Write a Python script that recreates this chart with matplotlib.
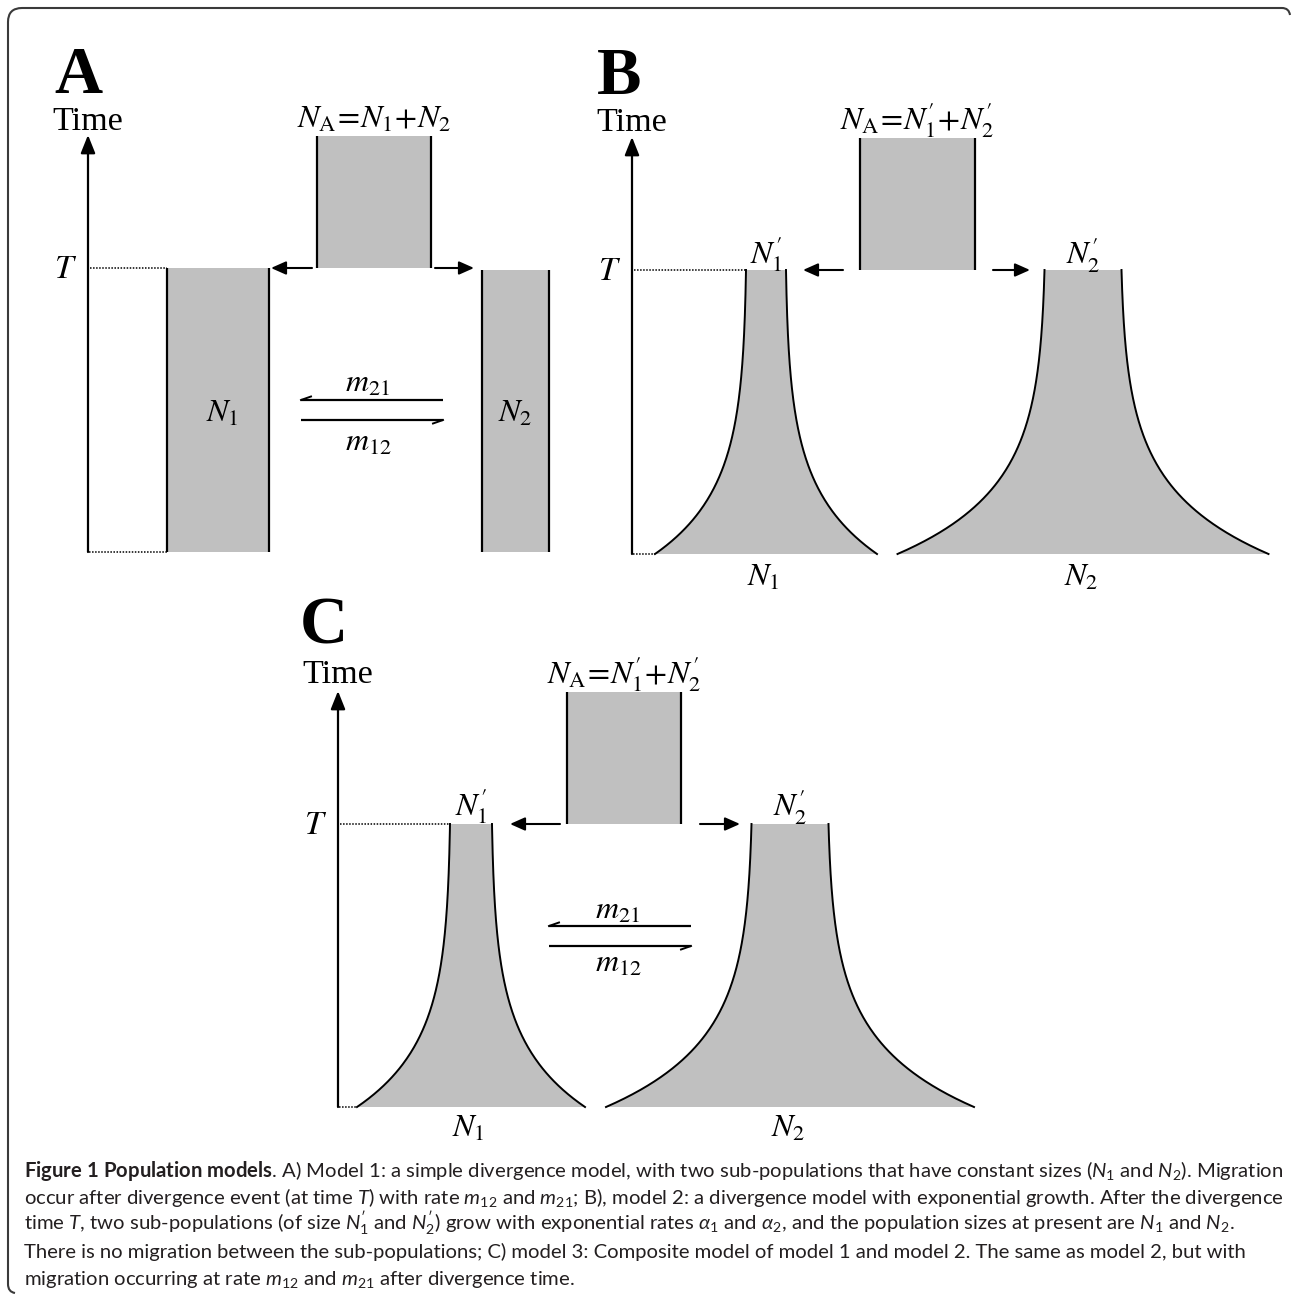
import numpy as np
import matplotlib
matplotlib.use("Agg")
import matplotlib.pyplot as plt
from matplotlib.path import Path
from matplotlib.patches import PathPatch, Polygon

plt.rcParams['mathtext.fontset'] = 'custom'
plt.rcParams['mathtext.rm'] = 'Lato'
plt.rcParams['mathtext.it'] = 'Lato:italic'
plt.rcParams['mathtext.bf'] = 'Lato:bold'

# ---------------- data (schematic model quantities) ----------------
panel_letters = ["A", "B", "C"]
model_growth = [False, True, True]          # exponential growth after divergence
model_migration = [True, False, True]       # migration m12 / m21
ancestral_size = [114, 115, 114]            # drawn width of N_A
size1_at_T = [102, 40, 42]                  # N1' (width at divergence time)
size2_at_T = [67, 77, 77]                   # N2'
size1_present = [102, 222, 228]             # N1 at present
size2_present = [67, 371, 368]              # N2 at present
growth_rate_shape = 4.4                     # curvature of the exponential growth outline
anc_labels = [r"$N_{\mathrm{A}}\!=\!N_1\!+\!N_2$",
              r"$N_{\mathrm{A}}\!=\!N_1^{\prime}\!+\!N_2^{\prime}$",
              r"$N_{\mathrm{A}}\!=\!N_1^{\prime}\!+\!N_2^{\prime}$"]
mig_labels = [r"$m_{21}$", r"$m_{12}$"]
caption_lines = [
    r"$\mathbf{Figure\ 1\ Population\ models}$. A) Model 1: a simple divergence model, with two sub-populations that have constant sizes ($N_1$ and $N_2$). Migration",
    r"occur after divergence event (at time $T$) with rate $m_{12}$ and $m_{21}$; B), model 2: a divergence model with exponential growth. After the divergence",
    r"time $T$, two sub-populations (of size $N_1^{\prime}$ and $N_2^{\prime}$) grow with exponential rates $\alpha_1$ and $\alpha_2$, and the population sizes at present are $N_1$ and $N_2$.",
    r"There is no migration between the sub-populations; C) model 3: Composite model of model 1 and model 2. The same as model 2, but with",
    r"migration occurring at rate $m_{12}$ and $m_{21}$ after divergence time.",
]

# ---------------- layout (pixel positions of each panel) ----------------
layout = [
    dict(axis_x=88, y_now=552, y_T=268, y_top=136, c1=218, cA=374, c2=515.5,
         letter=(78, 93), time_y=130, arrL=(312, 271), arrR=(435, 474),
         mig_x=(301, 443), mig_y=(400, 420), mig_lab_y=(383, 442), mig_lab_x=368,
         inside_lab_y=413),
    dict(axis_x=632, y_now=554, y_T=270, y_top=138, c1=766, cA=917.5, c2=1083,
         letter=(619, 94), time_y=131, arrL=(843, 803), arrR=(993, 1030),
         top_lab_y=264, bot_lab_y=577),
    dict(axis_x=338, y_now=1107, y_T=824, y_top=692, c1=471, cA=624, c2=790,
         letter=(324, 644), time_y=683, arrL=(560, 510), arrR=(700, 740),
         mig_x=(549, 691), mig_y=(926, 946), mig_lab_y=(910, 963), mig_lab_x=618,
         top_lab_y=816, bot_lab_y=1128),
]

GRAY = '#c0c0c0'
SERIF = 'Liberation Serif'
LAB_FS = 23

fig = plt.figure(figsize=(12.92, 12.97), dpi=100)
ax = fig.add_axes([0, 0, 1, 1])
ax.set_xlim(0, 1292)
ax.set_ylim(1297, 0)
ax.axis('off')


def vline(x, y0, y1, lw=1.6):
    ax.plot([x, x], [y0, y1], color='k', lw=lw, solid_capstyle='butt')


def arrow(p0, p1, lw=1.5, hl=0.5, hw=0.22):
    ax.annotate('', xy=p1, xytext=p0,
                arrowprops=dict(arrowstyle=f'-|>,head_length={hl},head_width={hw}',
                                lw=lw, color='k', shrinkA=0, shrinkB=0,
                                mutation_scale=20))


def block(c, w, y0, y1):
    ax.fill_between([c - w / 2, c + w / 2], y0, y1, color=GRAY, lw=0)
    vline(c - w / 2, y0, y1)
    vline(c + w / 2, y0, y1)


def growth_shape(c, w_T, w_now, y_T, y_now):
    y = np.linspace(y_now, y_T, 200)
    f = (y_now - y) / (y_now - y_T)
    k = growth_rate_shape
    g = (np.exp(-k * f) - np.exp(-k)) / (1 - np.exp(-k))
    w = w_T + (w_now - w_T) * g
    xl, xr = c - w / 2, c + w / 2
    poly = np.vstack([np.column_stack([xl, y]), np.column_stack([xr[::-1], y[::-1]])])
    ax.add_patch(Polygon(poly, closed=True, facecolor=GRAY, edgecolor='none'))
    ax.plot(xl, y, color='k', lw=1.4)
    ax.plot(xr, y, color='k', lw=1.4)


def label(x, y, s, fs=LAB_FS, va='center'):
    ax.text(x, y, s, fontsize=fs, math_fontfamily='stix', ha='center', va=va)


for i, L in enumerate(layout):
    axx, yn, yT, ytop = L['axis_x'], L['y_now'], L['y_T'], L['y_top']
    # panel letter and time axis
    ax.text(L['letter'][0], L['letter'][1], panel_letters[i], family=SERIF,
            weight='bold', fontsize=48, ha='center', va='baseline')
    ax.text(axx, L['time_y'], 'Time', family=SERIF, fontsize=24.5,
            ha='center', va='baseline')
    arrow((axx, yn), (axx, ytop - 1), lw=1.6, hl=0.55, hw=0.22)
    label(axx - 22, yT, r'$T$', fs=24)

    # ancestral population
    block(L['cA'], ancestral_size[i], ytop, yT)
    ax.text(L['cA'], ytop - 8, anc_labels[i], fontsize=LAB_FS, math_fontfamily='stix',
            ha='center', va='baseline')

    # divergence arrows
    arrow((L['arrL'][0], yT), (L['arrL'][1], yT), lw=1.5, hl=0.45, hw=0.2)
    arrow((L['arrR'][0], yT), (L['arrR'][1], yT), lw=1.5, hl=0.45, hw=0.2)

    # sub-populations
    if model_growth[i]:
        growth_shape(L['c1'], size1_at_T[i], size1_present[i], yT, yn)
        growth_shape(L['c2'], size2_at_T[i], size2_present[i], yT, yn)
        label(L['c1'], L['top_lab_y'], r"$N_1^{\prime}$", va='baseline')
        label(L['c2'], L['top_lab_y'], r"$N_2^{\prime}$", va='baseline')
        label(L['c1'] - 3, L['bot_lab_y'], r"$N_1$")
        label(L['c2'] - 2, L['bot_lab_y'], r"$N_2$")
    else:
        block(L['c1'], size1_present[i], yT, yn)
        block(L['c2'], size2_present[i], yT + 2, yn)
        label(L['c1'] + 4, L['inside_lab_y'], r"$N_1$")
        label(L['c2'], L['inside_lab_y'], r"$N_2$")

    # dotted guide lines to the time axis
    ax.plot([axx + 2, L['c1'] - size1_at_T[i] / 2], [yT, yT], color='k', lw=1.1,
            ls=(0, (1, 1)))
    ax.plot([axx + 1, L['c1'] - size1_present[i] / 2], [yn, yn], color='k', lw=1.1,
            ls=(0, (1, 1)))

    # migration harpoons
    if model_migration[i]:
        x0, x1 = L['mig_x']
        ya, yb = L['mig_y']
        ax.plot([x0, x1], [ya, ya], color='k', lw=1.6, solid_capstyle='butt')
        ax.plot([x0, x0 + 10], [ya, ya - 3.5], color='k', lw=1.4)
        ax.plot([x0, x1], [yb, yb], color='k', lw=1.6, solid_capstyle='butt')
        ax.plot([x1, x1 - 10], [yb, yb + 3.5], color='k', lw=1.4)
        label(L['mig_lab_x'], L['mig_lab_y'][0], mig_labels[0])
        label(L['mig_lab_x'], L['mig_lab_y'][1], mig_labels[1])

# ---------------- frame ----------------
verts = [(1290, 15), (1289, 8), (1282, 8), (22, 8), (8, 8), (8, 22), (8, 1284),
         (8, 1292), (15, 1293)]
codes = [Path.MOVETO, Path.CURVE3, Path.CURVE3, Path.LINETO, Path.CURVE3, Path.CURVE3,
         Path.LINETO, Path.CURVE3, Path.CURVE3]
ax.add_patch(PathPatch(Path(verts, codes), facecolor='none', edgecolor='#3a3a3a', lw=1.5))

# ---------------- caption ----------------
cap_x0, cap_right = 24, 1277
cap_y = [1177, 1204, 1231, 1258, 1285]
fs0 = 13
cap_texts = [ax.text(cap_x0, y, s, family='Lato', fontsize=fs0, color='#231f20',
                     va='baseline', ha='left') for s, y in zip(caption_lines, cap_y)]
fig.canvas.draw()
rend = fig.canvas.get_renderer()
w0 = cap_texts[0].get_window_extent(rend).width
scale = (cap_right - cap_x0) / w0
for t in cap_texts:
    t.set_fontsize(fs0 * scale)

fig.savefig('out.png', dpi=100)
